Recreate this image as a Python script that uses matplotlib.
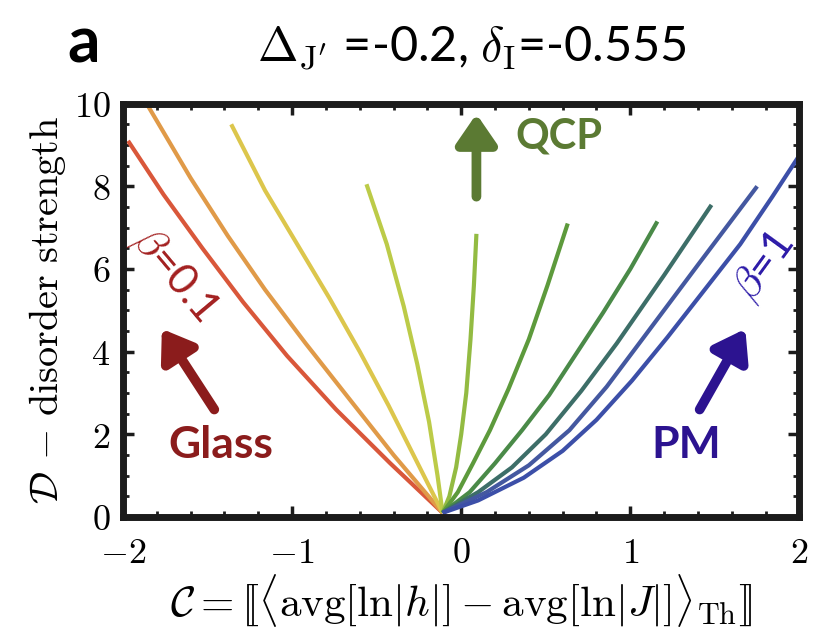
import matplotlib
matplotlib.use("Agg")
import matplotlib.pyplot as plt
from matplotlib.ticker import MultipleLocator, FuncFormatter
import matplotlib.patheffects as pe

plt.rcParams['mathtext.fontset'] = 'cm'

# beta = 0.1 ... 1, curves
betas = [0.1, 0.2, 0.3, 0.4, 0.5, 0.6, 0.7, 0.8, 0.9, 1.0]
colors = ['#d9573a', '#e09a48', '#dcc64c', '#bccb48', '#93bb42',
          '#5d9a3c', '#4a8a48', '#3d6e68', '#4458a0', '#3c4fa8']

curve_x = [
    [-0.11, -0.42, -0.74, -1.03, -1.29, -1.53, -1.76, -1.97],
    [-0.11, -0.40, -0.67, -0.92, -1.16, -1.38, -1.60, -1.86],
    [-0.11, -0.27, -0.43, -0.60, -0.78, -0.97, -1.16, -1.36],
    [-0.11, -0.14, -0.19, -0.26, -0.34, -0.44, -0.56],
    [-0.11, -0.07, -0.03, 0.00, 0.03, 0.055, 0.075, 0.09],
    [-0.11, -0.02, 0.07, 0.17, 0.28, 0.40, 0.51, 0.63],
    [-0.11, 0.05, 0.20, 0.36, 0.52, 0.68, 0.84, 1.00, 1.16],
    [-0.11, 0.10, 0.30, 0.50, 0.71, 0.92, 1.20, 1.48],
    [-0.11, 0.15, 0.40, 0.64, 0.86, 1.08, 1.40, 1.75],
    [-0.11, 0.10, 0.37, 0.60, 0.80, 1.01, 1.22, 1.44, 1.65, 1.84, 2.00],
]
curve_y = [
    [0.1, 1.3, 2.6, 3.9, 5.2, 6.5, 7.8, 9.1],
    [0.1, 1.5, 2.9, 4.2, 5.5, 6.8, 8.2, 10.0],
    [0.1, 1.4, 2.7, 4.0, 5.3, 6.6, 7.9, 9.5],
    [0.1, 1.0, 2.3, 3.7, 5.1, 6.6, 8.05],
    [0.1, 0.5, 1.2, 2.0, 3.0, 4.3, 5.6, 6.85],
    [0.1, 0.6, 1.3, 2.1, 3.1, 4.3, 5.6, 7.1],
    [0.1, 0.6, 1.3, 2.1, 2.95, 3.95, 4.95, 6.0, 7.15],
    [0.1, 0.6, 1.2, 2.0, 3.05, 4.2, 5.85, 7.55],
    [0.1, 0.6, 1.25, 2.1, 3.15, 4.35, 6.1, 8.0],
    [0.1, 0.4, 0.95, 1.6, 2.35, 3.3, 4.35, 5.5, 6.6, 7.75, 8.75],
]

fig = plt.figure(figsize=(8.16, 6.32), dpi=100)
ax = fig.add_axes([0.1507, 0.182, 0.829, 0.654])

for xs, ys, c in zip(curve_x, curve_y, colors):
    ax.plot(xs, ys, color=c, lw=3.0, solid_capstyle='butt', solid_joinstyle='round')

ax.set_xlim(-2, 2)
ax.set_ylim(0, 10)

for s in ax.spines.values():
    s.set_linewidth(5)
    s.set_color('#1c1c1c')

ax.xaxis.set_major_locator(MultipleLocator(1))
ax.xaxis.set_minor_locator(MultipleLocator(0.2))
ax.yaxis.set_major_locator(MultipleLocator(2))
ax.yaxis.set_minor_locator(MultipleLocator(0.5))
ax.tick_params(which='both', direction='in', top=True, right=True, color='#1c1c1c')
ax.tick_params(which='major', length=8, width=2.5, labelsize=26, pad=9)
ax.tick_params(axis='x', which='major', pad=14)
ax.tick_params(which='minor', length=4, width=2)
fmt = FuncFormatter(lambda v, p: r"$%d$" % round(v))
ax.xaxis.set_major_formatter(fmt)
ax.yaxis.set_major_formatter(fmt)

ax.set_xlabel(r"$\mathcal{C}=[\![\langle\mathrm{avg}[\ln|h|]-\mathrm{avg}[\ln|J|]\rangle_{\mathrm{Th}}]\!]$",
              fontsize=31, labelpad=1)
ax.set_ylabel(r"$\mathcal{D}\,-\,\mathrm{disorder\ strength}$", fontsize=29, labelpad=4)

fig.text(0.578, 0.925, r"$\Delta_{\mathrm{J}'}$ =-0.2, $\delta_{\mathrm{I}}$=-0.555",
         ha='center', va='center', fontsize=35, family='Lato')
fig.text(0.082, 0.93, "a", ha='left', va='center', fontsize=46, weight='bold', family='Lato')

shadow = [pe.withSimplePatchShadow(offset=(2, -2), shadow_rgbFace='gray', alpha=0.5)]
astyle = "-|>,head_length=0.8,head_width=0.55"

# QCP
ax.annotate("", xy=(0.09, 9.75), xytext=(0.09, 7.75),
            arrowprops=dict(arrowstyle=astyle, lw=7, color='#5b7a33', shrinkA=0, shrinkB=0,
                            mutation_scale=22, path_effects=shadow))
ax.text(0.58, 9.2, "QCP", color='#5b7a33', fontsize=30, weight='bold', family='Lato',
        ha='center', va='center')

# Glass
ax.annotate("", xy=(-1.77, 4.55), xytext=(-1.46, 2.6),
            arrowprops=dict(arrowstyle=astyle, lw=7, color='#8b1c1c', shrinkA=0, shrinkB=0,
                            mutation_scale=22, path_effects=shadow))
ax.text(-1.42, 1.75, "Glass", color='#8b1c1c', fontsize=32, weight='bold', family='Lato',
        ha='center', va='center')
ax.text(-1.70, 5.85, r"$\beta$=0.1", color='#a32020', fontsize=31, family='Lato',
        rotation=-50, ha='center', va='center', rotation_mode='anchor')

# PM
ax.annotate("", xy=(1.68, 4.55), xytext=(1.41, 2.6),
            arrowprops=dict(arrowstyle=astyle, lw=7, color='#2c1390', shrinkA=0, shrinkB=0,
                            mutation_scale=22, path_effects=shadow))
ax.text(1.33, 1.75, "PM", color='#2c1390', fontsize=32, weight='bold', family='Lato',
        ha='center', va='center')
ax.text(1.79, 6.06, r"$\beta$=1", color='#2c1aa8', fontsize=31, family='Lato',
        rotation=54, ha='center', va='center', rotation_mode='anchor')

fig.savefig("out.png", dpi=100)
